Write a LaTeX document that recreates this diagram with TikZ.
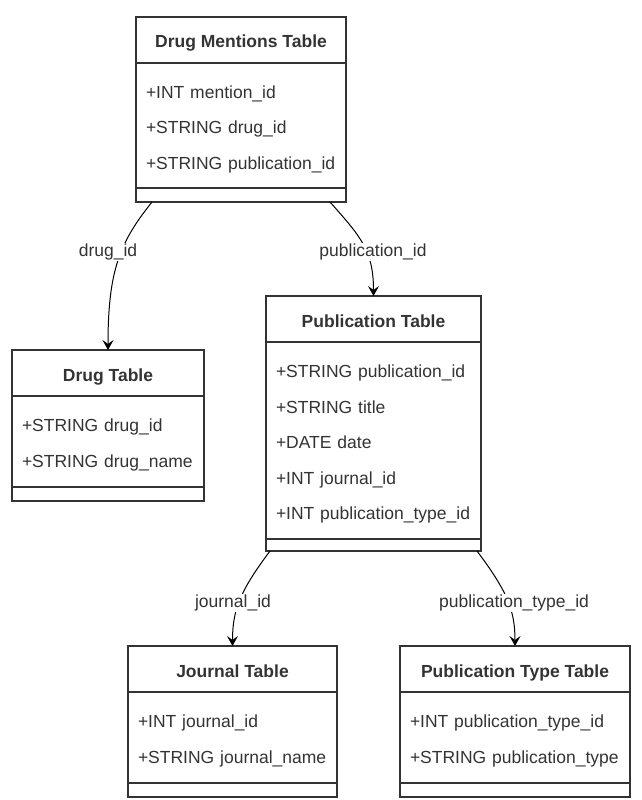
\documentclass[tikz,border=0pt]{standalone}
\usepackage{fontspec}
\setmainfont{Liberation Sans}
\usepackage{tikz}
\usetikzlibrary{positioning,calc,arrows.meta}
\definecolor{boxgray}{HTML}{333333}

\tikzset{
  tblhead/.style={draw=boxgray, line width=1.5pt, outer sep=0pt, minimum height=46,
    text height=16, text depth=0,
    font=\fontsize{17.5}{21}\selectfont\bfseries, text=boxgray},
  tblbody/.style={draw=boxgray, line width=1.5pt, outer sep=0pt, inner xsep=10, align=left,
    text height=20, font=\fontsize{17.5}{35.5}\selectfont, text=boxgray},
  tblfoot/.style={draw=boxgray, line width=1.5pt, outer sep=0pt, minimum height=14},
  fkey/.style={fill=white, inner sep=1pt, font=\fontsize{17.5}{21}\selectfont, text=boxgray},
}

\begin{document}
\begin{tikzpicture}[x=1pt,y=-1pt,>={Stealth[length=10pt,width=11pt,inset=4pt]}]
    \useasboundingbox (0,0) rectangle (642,800);
    % drug mentions
    \node[tblhead, minimum width=210, anchor=north] (dm) at (241,17) {Drug Mentions Table};
    \node[tblbody, text width=190, minimum height=125, below=0pt of dm] (dmf)
        {+INT mention\_id\\+STRING drug\_id\\+STRING publication\_id};
    \node[tblfoot, minimum width=210, below=0pt of dmf] (dme) {};
    % drug
    \node[tblhead, minimum width=192, anchor=north] (drug) at (108,350) {Drug Table};
    \node[tblbody, text width=172, minimum height=91, below=0pt of drug] (drugf)
        {+STRING drug\_id\\+STRING drug\_name};
    \node[tblfoot, minimum width=192, below=0pt of drugf] (druge) {};
    % publication
    \node[tblhead, minimum width=215, anchor=north] (pub) at (373.5,296) {Publication Table};
    \node[tblbody, text width=195, minimum height=197, below=0pt of pub] (pubf)
        {+STRING publication\_id\\+STRING title\\+DATE date\\+INT journal\_id\\+INT publication\_type\_id};
    \node[tblfoot, minimum width=215, minimum height=12, below=0pt of pubf] (pube) {};
    % journal
    \node[tblhead, minimum width=209, anchor=north] (jrn) at (232.5,646) {Journal Table};
    \node[tblbody, text width=189, minimum height=91, below=0pt of jrn] (jrnf)
        {+INT journal\_id\\+STRING journal\_name};
    \node[tblfoot, minimum width=209, below=0pt of jrnf] (jrne) {};
    % publication type
    \node[tblhead, minimum width=230, anchor=north] (ptype) at (515,646) {Publication Type Table};
    \node[tblbody, text width=210, minimum height=91, below=0pt of ptype] (ptypef)
        {+INT publication\_type\_id\\+STRING publication\_type};
    \node[tblfoot, minimum width=230, below=0pt of ptypef] (ptypee) {};

    % links
    \draw[->, line width=1pt] ($(dme.south west)+(16,0)$) .. controls +(-32,40) and +(0,-80) .. (drug.north);
    \draw[->, line width=1pt] ($(dme.south east)+(-16,0)$) .. controls +(30,34) and +(0,-46) .. (pub.north);
    \draw[->, line width=1pt] ($(pube.south west)+(4,0)$) .. controls +(-30,40) and +(0,-36) .. (jrn.north);
    \draw[->, line width=1pt] ($(pube.south east)+(-4,0)$) .. controls +(30,40) and +(0,-36) .. (ptype.north);
    \node[fkey] (l1) at (108,252) {drug\_id};
    \node[fkey] (l2) at (373,252) {publication\_id};
    \node[fkey] (l3) at (233,603) {journal\_id};
    \node[fkey] (l4) at (514,603) {publication\_type\_id};
\end{tikzpicture}
\end{document}
